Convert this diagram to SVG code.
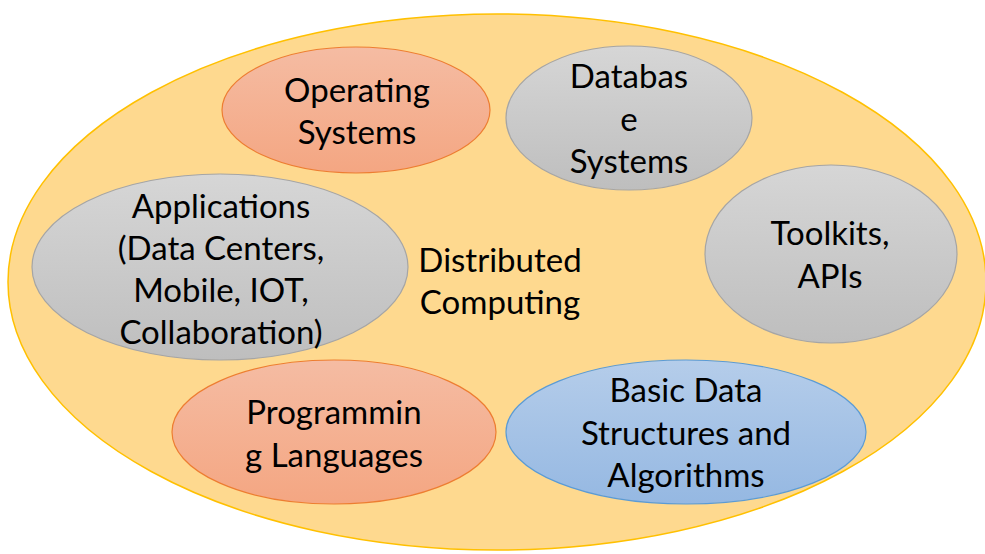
<svg xmlns="http://www.w3.org/2000/svg" width="985" height="554" viewBox="0 0 985 554">
<defs>
<linearGradient id="gOrange" x1="0" y1="0" x2="0" y2="1"><stop offset="0" stop-color="#F5BCA3"/><stop offset="1" stop-color="#F4A682"/></linearGradient>
<linearGradient id="gGrey" x1="0" y1="0" x2="0" y2="1"><stop offset="0" stop-color="#D6D6D6"/><stop offset="1" stop-color="#BEBEBE"/></linearGradient>
<linearGradient id="gBlue" x1="0" y1="0" x2="0" y2="1"><stop offset="0" stop-color="#B5CDEA"/><stop offset="1" stop-color="#95B8E2"/></linearGradient>
</defs>
<style>
.outer{fill:#FED98F;stroke:#FFC000;stroke-width:1.5}
.orange{fill:url(#gOrange);stroke:#ED7D31;stroke-width:1.2}
.grey{fill:url(#gGrey);stroke:#A5A5A5;stroke-width:1.2}
.blue{fill:url(#gBlue);stroke:#5B9BD5;stroke-width:1.2}
text{font-family:Lato,"Open Sans",sans-serif;font-size:33px;fill:#000;text-anchor:middle}
</style>
<rect width="985" height="554" fill="#FFFFFF"/>
<g id="distributed-computing">
<ellipse class="outer" cx="497" cy="282" rx="489" ry="268"/>
<text x="500" y="272">Distributed</text>
<text x="500" y="314">Computing</text>
</g>
<g id="operating-systems">
<ellipse class="orange" cx="356" cy="110" rx="134" ry="63"/>
<text x="357" y="102">Operating</text>
<text x="357" y="144">Systems</text>
</g>
<g id="database-systems">
<ellipse class="grey" cx="629" cy="118" rx="123" ry="72"/>
<text x="629" y="88">Databas</text>
<text x="629" y="131">e</text>
<text x="629" y="173">Systems</text>
</g>
<g id="toolkits-apis">
<ellipse class="grey" cx="831" cy="254" rx="126" ry="89"/>
<text x="830" y="245">Toolkits,</text>
<text x="830" y="288">APIs</text>
</g>
<g id="applications">
<ellipse class="grey" cx="220" cy="267" rx="188" ry="93"/>
<text x="221" y="218">Applications</text>
<text x="221" y="260">(Data Centers,</text>
<text x="221" y="302">Mobile, IOT,</text>
<text x="221" y="344">Collaboration)</text>
</g>
<g id="programming-languages">
<ellipse class="orange" cx="334" cy="432" rx="162" ry="72"/>
<text x="334" y="424">Programmin</text>
<text x="334" y="467">g Languages</text>
</g>
<g id="basic-data-structures">
<ellipse class="blue" cx="686" cy="432" rx="180" ry="72"/>
<text x="686" y="402">Basic Data</text>
<text x="686" y="445">Structures and</text>
<text x="686" y="487">Algorithms</text>
</g>
<g id="connectors"></g>
</svg>
